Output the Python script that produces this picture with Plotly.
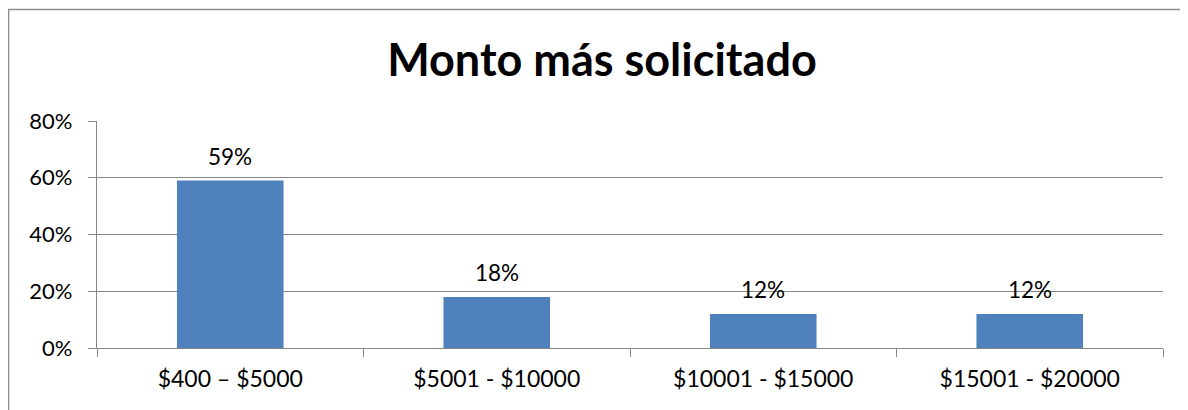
import plotly.graph_objects as go

categories = ["$400 – $5000", "$5001 - $10000", "$10001 - $15000", "$15001 - $20000"]
values = [0.59, 0.18, 0.12, 0.12]
labels = ["59%", "18%", "12%", "12%"]
y_ticks = [0, 0.2, 0.4, 0.6, 0.8]
y_tick_text = ["0%", "20%", "40%", "60%", "80%"]

FONT = "Lato, Carlito, Calibri, sans-serif"
GRID = "#878787"

fig = go.Figure()
fig.add_trace(go.Bar(
    x=categories, y=values, width=0.4,
    marker=dict(color="#4F81BD", line=dict(width=0)),
))
for c, v, t in zip(categories, values, labels):
    fig.add_annotation(x=c, y=v, text=t, showarrow=False, yshift=24,
                       font=dict(size=22.5, color="#000000", family=FONT))

fig.update_layout(
    width=1188, height=410,
    margin=dict(l=89, r=33, t=113, b=70),
    paper_bgcolor="white", plot_bgcolor="white",
    showlegend=False,
    title=dict(text="<b>Monto más solicitado</b>", x=0.5, xanchor="center",
               y=0.873, yanchor="middle",
               font=dict(size=45, family=FONT, color="#000000")),
    font=dict(family=FONT, size=23, color="#000000"),
)
fig.update_yaxes(range=[0, 0.8], tickvals=y_ticks, ticktext=y_tick_text,
                 showgrid=True, gridcolor=GRID, gridwidth=1.2,
                 showline=True, linecolor=GRID, linewidth=1.2,
                 ticks="outside", ticklen=8, tickcolor=GRID, ticklabelstandoff=11,
                 tickfont=dict(size=22),
                 zeroline=False, fixedrange=True)
fig.update_xaxes(showline=True, linecolor=GRID, linewidth=1.2,
                 ticks="outside", ticklen=8, tickcolor=GRID, tickson="boundaries",
                 showgrid=False, ticklabelstandoff=10)

fig.add_shape(type="rect", xref="paper", yref="paper",
              x0=-0.0830, x1=1.2, y0=-0.6, y1=1.491,
              line=dict(color="#8C8C8C", width=1.5), layer="below")

fig.write_html("out.html")
